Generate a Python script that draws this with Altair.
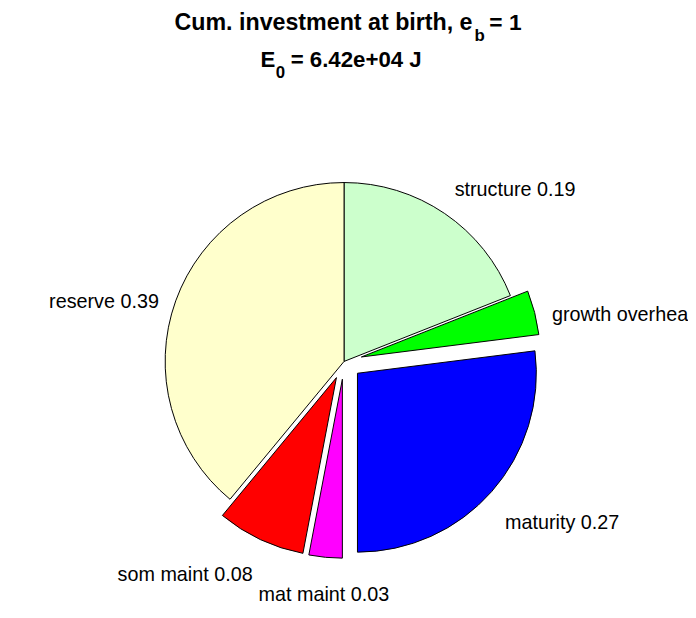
import altair as alt
import pandas as pd

# ---- data ----
names = ["structure", "growth overhead", "maturity", "mat maint", "som maint", "reserve"]
fractions = [0.19, 0.04, 0.27, 0.03, 0.08, 0.39]
explode = [0, 1, 1, 1, 1, 0]
colors = ["#CCFFCC", "#00FF00", "#0000FF", "#FF00FF", "#FF0000", "#FFFFCC"]

title_line1 = ("Cum. investment at birth, e", "b", "= 1")
title_line2 = ("E", "0", "= 6.42e+04 J")

# ---- layout constants (pixels in plot area) ----
CX, CY, R = 340, 354, 181
OFF = 0.1 * R      # explode distance
LR = 1.1 * R       # label radius
FONT = "Liberation Sans"

df = pd.DataFrame({
    "name": names,
    "frac": fractions,
    "explode": explode,
    "idx": list(range(len(names))),
    "label": [f"{n} {v:.2f}" for n, v in zip(names, fractions)],
})

base = (
    alt.Chart(df)
    .transform_window(cum="sum(frac)", sort=[alt.SortField("idx")], frame=[None, 0])
    .transform_calculate(t0="2*PI*(datum.cum - datum.frac)")
    .transform_calculate(t1="2*PI*datum.cum")
    .transform_calculate(mid="PI*(2*datum.cum - datum.frac)")
    .transform_calculate(cx=f"{CX} + datum.explode*{OFF}*sin(datum.mid)")
    .transform_calculate(cy=f"{CY} - datum.explode*{OFF}*cos(datum.mid)")
    .transform_calculate(lx=f"datum.cx + {LR}*sin(datum.mid)")
    .transform_calculate(
        ly=f"datum.cy - {LR}*cos(datum.mid) + (cos(datum.mid) > 0.5 ? -3 : (cos(datum.mid) > 0 ? 13 : 26))"
    )
)

arcs = base.mark_arc(radius=R, stroke="black", strokeWidth=1).encode(
    theta=alt.Theta("t0:Q", scale=None, stack=False),
    theta2="t1:Q",
    x=alt.X("cx:Q", scale=None),
    y=alt.Y("cy:Q", scale=None),
    color=alt.Color("name:N", scale=alt.Scale(domain=names, range=colors), legend=None),
)


def label_layer(cond, align):
    return (
        base.transform_filter(cond)
        .mark_text(align=align, baseline="alphabetic", fontSize=20, font=FONT, color="black")
        .encode(x=alt.X("lx:Q", scale=None), y=alt.Y("ly:Q", scale=None), text="label:N")
    )


labels_left = label_layer("sin(datum.mid) > 0.3", "left")
labels_right = label_layer("sin(datum.mid) < -0.3", "right")
labels_center = label_layer("abs(sin(datum.mid)) <= 0.3", "center")


def title_piece(txt, x, y, size, align):
    return (
        alt.Chart(pd.DataFrame({"t": [txt]}))
        .mark_text(align=align, baseline="alphabetic", fontSize=size, fontWeight="bold",
                   font=FONT, color="black")
        .encode(x=alt.value(x), y=alt.value(y), text="t:N")
    )


titles = [
    title_piece(title_line1[0], 470, 19, 23.5, "right"),
    title_piece(title_line1[1], 472, 30, 17, "left"),
    title_piece(title_line1[2], 487, 19, 23, "left"),
    title_piece(title_line2[0], 270.5, 56, 22.5, "right"),
    title_piece(title_line2[1], 271, 67, 17, "left"),
    title_piece(title_line2[2], 286, 56, 22.5, "left"),
]

chart = alt.layer(arcs, labels_left, labels_right, labels_center, *titles).properties(
    width=688, height=610, padding=0, autosize=alt.AutoSizeParams(type="none")
).configure_view(stroke=None)

chart.save("out.html", embed_options={"renderer": "svg", "actions": False})
